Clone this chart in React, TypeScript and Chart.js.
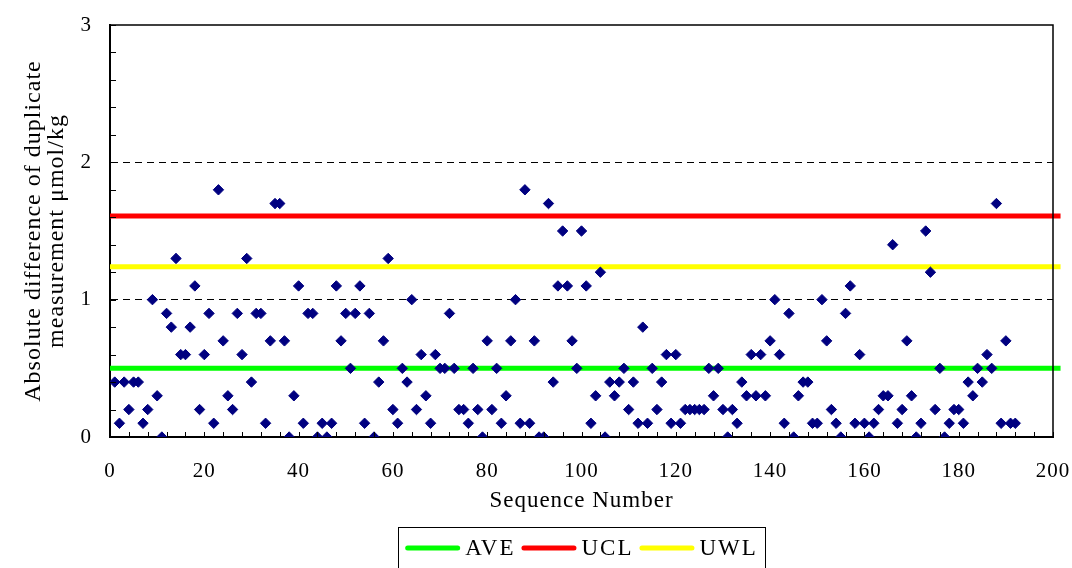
import React, { useEffect, useRef } from "react";
import { Chart, registerables } from "chart.js";

Chart.register(...registerables);

// ---- data ----
const sequenceNumbers: number[] = [
  1, 2, 3, 4, 5, 6, 7, 8, 9, 10, 11, 12, 13, 14, 15, 16, 17, 18, 19, 20,
  21, 22, 23, 24, 25, 26, 27, 28, 29, 30, 31, 32, 33, 34, 35, 36, 37, 38, 39, 40,
  41, 42, 43, 44, 45, 46, 47, 48, 49, 50, 51, 52, 53, 54, 55, 56, 57, 58, 59, 60,
  61, 62, 63, 64, 65, 66, 67, 68, 69, 70, 71, 72, 73, 74, 75, 76, 77, 78, 79, 80,
  81, 82, 83, 84, 85, 86, 87, 88, 89, 90, 91, 92, 93, 94, 95, 96, 97, 98, 99, 100,
  101, 102, 103, 104, 105, 106, 107, 108, 109, 110, 111, 112, 113, 114, 115, 116, 117, 118, 119, 120,
  121, 122, 123, 124, 125, 126, 127, 128, 129, 130, 131, 132, 133, 134, 135, 136, 137, 138, 139, 140,
  141, 142, 143, 144, 145, 146, 147, 148, 149, 150, 151, 152, 153, 154, 155, 156, 157, 158, 159, 160,
  161, 162, 163, 164, 165, 166, 167, 168, 169, 170, 171, 172, 173, 174, 175, 176, 177, 178, 179, 180,
  181, 182, 183, 184, 185, 186, 187, 188, 189, 190, 191, 192,
];

const absoluteDifference: number[] = [
  0.4, 0.1, 0.4, 0.2, 0.4, 0.4, 0.1, 0.2, 1.0, 0.3, 0.0, 0.9, 0.8, 1.3, 0.6, 0.6, 0.8, 1.1, 0.2, 0.6,
  0.9, 0.1, 1.8, 0.7, 0.3, 0.2, 0.9, 0.6, 1.3, 0.4, 0.9, 0.9, 0.1, 0.7, 1.7, 1.7, 0.7, 0.0, 0.3, 1.1,
  0.1, 0.9, 0.9, 0.0, 0.1, 0.0, 0.1, 1.1, 0.7, 0.9, 0.5, 0.9, 1.1, 0.1, 0.9, 0.0, 0.4, 0.7, 1.3, 0.2,
  0.1, 0.5, 0.4, 1.0, 0.2, 0.6, 0.3, 0.1, 0.6, 0.5, 0.5, 0.9, 0.5, 0.2, 0.2, 0.1, 0.5, 0.2, 0.0, 0.7,
  0.2, 0.5, 0.1, 0.3, 0.7, 1.0, 0.1, 1.8, 0.1, 0.7, 0.0, 0.0, 1.7, 0.4, 1.1, 1.5, 1.1, 0.7, 0.5, 1.5,
  1.1, 0.1, 0.3, 1.2, 0.0, 0.4, 0.3, 0.4, 0.5, 0.2, 0.4, 0.1, 0.8, 0.1, 0.5, 0.2, 0.4, 0.6, 0.1, 0.6,
  0.1, 0.2, 0.2, 0.2, 0.2, 0.2, 0.5, 0.3, 0.5, 0.2, 0.0, 0.2, 0.1, 0.4, 0.3, 0.6, 0.3, 0.6, 0.3, 0.7,
  1.0, 0.6, 0.1, 0.9, 0.0, 0.3, 0.4, 0.4, 0.1, 0.1, 1.0, 0.7, 0.2, 0.1, 0.0, 0.9, 1.1, 0.1, 0.6, 0.1,
  0.0, 0.1, 0.2, 0.3, 0.3, 1.4, 0.1, 0.2, 0.7, 0.3, 0.0, 0.1, 1.5, 1.2, 0.2, 0.5, 0.0, 0.1, 0.2, 0.2,
  0.1, 0.4, 0.3, 0.5, 0.4, 0.6, 0.5, 1.7, 0.1, 0.7, 0.1, 0.1,
];

const limitNames: string[] = ["AVE", "UCL", "UWL"];
const limitValues: number[] = [0.5, 1.61, 1.24];
const limitColors: string[] = ["#00FF00", "#FF0000", "#FFFF00"];
const limitLineXRange: number[] = [0, 201.6];

const xTickRange: number[] = [0, 200];
const xTickStep = 20;
const xMinorStep = 4;
const yTickRange: number[] = [0, 3];
const yTickStep = 1;
const yMinorCount = 15; // minor ticks every 0.2 from 0 to 3
const yDashedGridValues: number[] = [1, 2];

const xTitle = "Sequence Number";
const yTitle: string[] = ["Absolute difference of duplicate", "measurement \u03bcmol/kg"];

const FONT = "'Liberation Serif', 'Times New Roman', serif";

const letterSpacingPlugin = {
  id: "letterSpacing",
  beforeDraw(chart: any) {
    (chart.ctx as any).letterSpacing = "1px";
  },
};

const innerTicksPlugin = {
  id: "innerTicks",
  afterDatasetsDraw(chart: any) {
    const { ctx, chartArea: a, scales } = chart;
    const x = scales.x;
    const y = scales.y;
    ctx.save();
    ctx.strokeStyle = "#000";
    ctx.lineWidth = 1;
    ctx.beginPath();
    for (let v = xTickRange[0]; v <= xTickRange[1]; v += xMinorStep) {
      const px = Math.round(x.getPixelForValue(v)) + 0.5;
      ctx.moveTo(px, a.bottom);
      ctx.lineTo(px, a.bottom - 5);
    }
    for (let i = 0; i <= yMinorCount; i++) {
      const v = (i * (yTickRange[1] - yTickRange[0])) / yMinorCount;
      const py = Math.round(y.getPixelForValue(v)) + 0.5;
      ctx.moveTo(a.left, py);
      ctx.lineTo(a.left + 6, py);
    }
    ctx.stroke();
    ctx.lineWidth = 1.5;
    ctx.beginPath();
    ctx.moveTo(a.left, a.top);
    ctx.lineTo(a.right, a.top);
    ctx.lineTo(a.right, a.bottom);
    ctx.stroke();
    ctx.restore();
  },
};

const boxedLegendPlugin = {
  id: "boxedLegend",
  afterDraw(chart: any) {
    const { ctx, chartArea: a } = chart;
    const items = chart.data.datasets.filter((d: any) => d.inLegend);
    ctx.save();
    ctx.font = `23px ${FONT}`;
    (ctx as any).letterSpacing = "2px";
    const sampleLen = 55;
    const gapText = 5;
    const gapItem = 6;
    const padX = 7;
    const widths = items.map((d: any) => ctx.measureText(d.label).width);
    let total = padX * 2 + gapItem * (items.length - 1);
    widths.forEach((w: number) => (total += sampleLen + gapText + w));
    const left = (a.left + a.right) / 2 - total / 2;
    const top = a.bottom + 90;
    ctx.strokeStyle = "#000";
    ctx.lineWidth = 1;
    ctx.strokeRect(Math.round(left) + 0.5, Math.round(top) + 0.5, Math.round(total), 46);
    const cy = top + 21;
    let cx = left + padX;
    items.forEach((d: any, i: number) => {
      ctx.strokeStyle = d.borderColor;
      ctx.lineWidth = 5;
      ctx.lineCap = "round";
      ctx.beginPath();
      ctx.moveTo(cx + 2.5, cy);
      ctx.lineTo(cx + sampleLen - 2.5, cy);
      ctx.stroke();
      cx += sampleLen + gapText;
      ctx.fillStyle = "#000";
      ctx.textBaseline = "middle";
      ctx.textAlign = "left";
      ctx.fillText(d.label, cx, cy + 1);
      cx += widths[i] + gapItem;
    });
    ctx.restore();
  },
};

export default function App() {
  const canvasRef = useRef<HTMLCanvasElement | null>(null);

  useEffect(() => {
    const canvas = canvasRef.current;
    if (!canvas) return;

    const pointData = sequenceNumbers.map((n, i) => ({ x: n, y: absoluteDifference[i] }));
    const limitDatasets = limitNames.map((name, i) => ({
      label: name,
      inLegend: true,
      data: limitLineXRange.map((xv) => ({ x: xv, y: limitValues[i] })),
      showLine: true,
      borderColor: limitColors[i],
      backgroundColor: limitColors[i],
      borderWidth: 5,
      pointRadius: 0,
      order: 2,
      clip: { left: 0, top: 0, right: 12, bottom: 0 },
    }));

    const chart = new Chart(canvas, {
      type: "scatter",
      data: {
        datasets: [
          {
            label: "Absolute difference",
            data: pointData,
            pointStyle: "rectRot",
            pointRadius: 5.2,
            pointBackgroundColor: "#000080",
            pointBorderColor: "#000080",
            pointBorderWidth: 1,
            showLine: false,
            order: 0,
          } as any,
          ...(limitDatasets as any[]),
        ],
      },
      options: {
        responsive: false,
        animation: false,
        events: [],
        layout: { padding: { left: 0, right: 19, top: 25, bottom: 56 } },
        plugins: {
          legend: { display: false },
          tooltip: { enabled: false },
          title: { display: false },
        },
        scales: {
          x: {
            type: "linear",
            min: xTickRange[0],
            max: xTickRange[1],
            afterFit: (scale: any) => {
              scale.height = 75;
            },
            grid: { display: true, drawOnChartArea: false, drawTicks: false },
            border: { display: true, color: "#000", width: 2 },
            ticks: {
              stepSize: xTickStep,
              color: "#000",
              padding: 0,
              font: { family: FONT, size: 21, lineHeight: 3.33 },
              maxRotation: 0,
            },
            title: {
              display: true,
              text: xTitle,
              color: "#000",
              font: { family: FONT, size: 23, lineHeight: 1 },
              padding: { top: 0, bottom: 0 },
            },
          },
          y: {
            type: "linear",
            min: yTickRange[0],
            max: yTickRange[1],
            afterFit: (scale: any) => {
              scale.width = 110;
            },
            grid: {
              display: true,
              drawTicks: false,
              lineWidth: 1,
              color: (ctx: any) =>
                ctx.tick && yDashedGridValues.includes(ctx.tick.value) ? "#000" : "rgba(0,0,0,0)",
            },
            border: { display: true, color: "#000", width: 2, dash: [7, 5] },
            ticks: {
              stepSize: yTickStep,
              color: "#000",
              padding: 18,
              font: { family: FONT, size: 21, lineHeight: 0.3 },
            },
            title: {
              display: true,
              text: yTitle,
              color: "#000",
              font: { family: FONT, size: 24, lineHeight: 0.96 },
              padding: { top: 22, bottom: 0 },
            },
          },
        },
      } as any,
      plugins: [letterSpacingPlugin, innerTicksPlugin, boxedLegendPlugin],
    });

    return () => chart.destroy();
  }, []);

  return (
    <div style={{ position: "absolute", left: 0, top: 0, width: 1072, height: 568, background: "#fff" }}>
      <canvas ref={canvasRef} width={1072} height={568} />
    </div>
  );
}
